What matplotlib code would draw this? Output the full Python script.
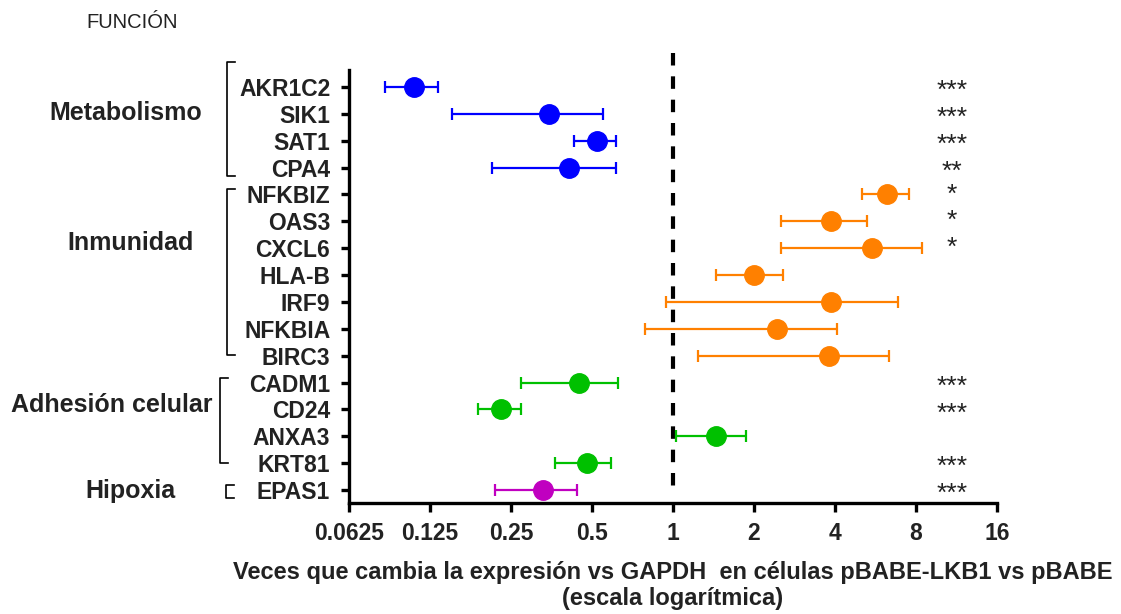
import numpy as np
import matplotlib
matplotlib.use("Agg")
import matplotlib.pyplot as plt
from matplotlib.lines import Line2D

plt.rcParams["font.family"] = ["Liberation Sans", "DejaVu Sans"]

# fold change per gene, with lower / upper limits of the error bar
genes = ["AKR1C2", "SIK1", "SAT1", "CPA4",
         "NFKBIZ", "OAS3", "CXCL6", "HLA-B", "IRF9", "NFKBIA", "BIRC3",
         "CADM1", "CD24", "ANXA3", "KRT81",
         "EPAS1"]
fold = [0.109, 0.347, 0.52, 0.41,
        6.26, 3.87, 5.48, 2.0, 3.88, 2.43, 3.79,
        0.449, 0.229, 1.45, 0.478,
        0.328]
err_lo = [0.085, 0.151, 0.43, 0.212,
          5.05, 2.52, 2.52, 1.44, 0.94, 0.79, 1.24,
          0.272, 0.188, 1.03, 0.365,
          0.218]
err_hi = [0.134, 0.55, 0.612, 0.612,
          7.54, 5.25, 8.44, 2.56, 6.84, 4.08, 6.33,
          0.626, 0.272, 1.86, 0.588,
          0.44]
signif = ["***", "***", "***", "**",
          "*", "*", "*", "", "", "", "",
          "***", "***", "", "***",
          "***"]

groups = ["Metabolismo", "Inmunidad", "Adhesión celular", "Hipoxia"]
group_rows = [(0, 3), (4, 10), (11, 14), (15, 15)]
group_colors = ["#0000FF", "#FF8000", "#00C000", "#C000C0"]

xticks = [0.0625, 0.125, 0.25, 0.5, 1, 2, 4, 8, 16]
xtick_labels = ["0.0625", "0.125", "0.25", "0.5", "1", "2", "4", "8", "16"]

W, H = 1121, 614
fig = plt.figure(figsize=(W / 100, H / 100), dpi=100)
ax = fig.add_axes([349 / W, 1 - 503 / H, 648 / W, 433 / H])

rows = np.arange(len(genes))
fold = np.array(fold)
lo = fold - np.array(err_lo)
hi = np.array(err_hi) - fold

for (r0, r1), col in zip(group_rows, group_colors):
    sl = slice(r0, r1 + 1)
    ax.errorbar(fold[sl], rows[sl], xerr=[lo[sl], hi[sl]], fmt="o",
                color=col, markersize=14, elinewidth=1.6, capsize=4,
                capthick=1.6, zorder=3)

# reference line at no change
ax.plot([1, 1], [-1.25, 15.2], color="black", lw=3, dashes=(3, 2.6),
        clip_on=False, zorder=2)

for r, s in enumerate(signif):
    if s:
        dy = 0.15 if len(s) > 1 else 0.0
        ax.text(10.9, r + dy, s, ha="center", va="center", fontsize=19,
                color="#222222")

ax.set_xscale("log", base=2)
ax.set_xlim(0.0625, 16)
ax.set_ylim(15.48, -0.63)
ax.set_xticks(xticks)
ax.set_xticklabels(xtick_labels, fontsize=16.5, fontweight="bold",
                   color="#222222")
ax.xaxis.set_minor_locator(matplotlib.ticker.NullLocator())
ax.set_yticks(rows)
ax.set_yticklabels(genes, fontsize=16.5, fontweight="bold", color="#222222")
ax.tick_params(axis="both", width=2.4, length=6.5)
ax.tick_params(axis="x", pad=7)
ax.tick_params(axis="y", length=5.5, pad=8)

for side in ["top", "right"]:
    ax.spines[side].set_visible(False)
for side in ["left", "bottom"]:
    ax.spines[side].set_linewidth(2.4)

ax.set_xlabel("Veces que cambia la expresión vs GAPDH  en células pBABE-LKB1 vs pBABE\n(escala logarítmica)",
              fontsize=17, fontweight="bold", color="#222222", labelpad=12,
              linespacing=1.15)

# group brackets to the left of the gene names
trans = ax.get_yaxis_transform()
brackets = [(-0.188, -0.93, 3.31), (-0.188, 3.79, 9.96),
            (-0.199, 10.82, 14.0), (-0.19, 14.8, 15.28)]
for x0, y0, y1 in brackets:
    serif = 0.012
    ax.add_line(Line2D([x0 + serif, x0, x0, x0 + serif], [y0, y0, y1, y1],
                       transform=trans, color="black", lw=1.2, clip_on=False))

label_pos = [(126, 113), (131, 243), (112, 405), (130, 491)]
for name, (px, py) in zip(groups, label_pos):
    fig.text(px / W, 1 - py / H, name, ha="center", va="center",
             fontsize=18, fontweight="bold", color="#222222")

fig.text(132 / W, 1 - 22 / H, "FUNCIÓN", ha="center", va="center",
         fontsize=14.5, color="#222222")

fig.savefig("out.png", dpi=100)
